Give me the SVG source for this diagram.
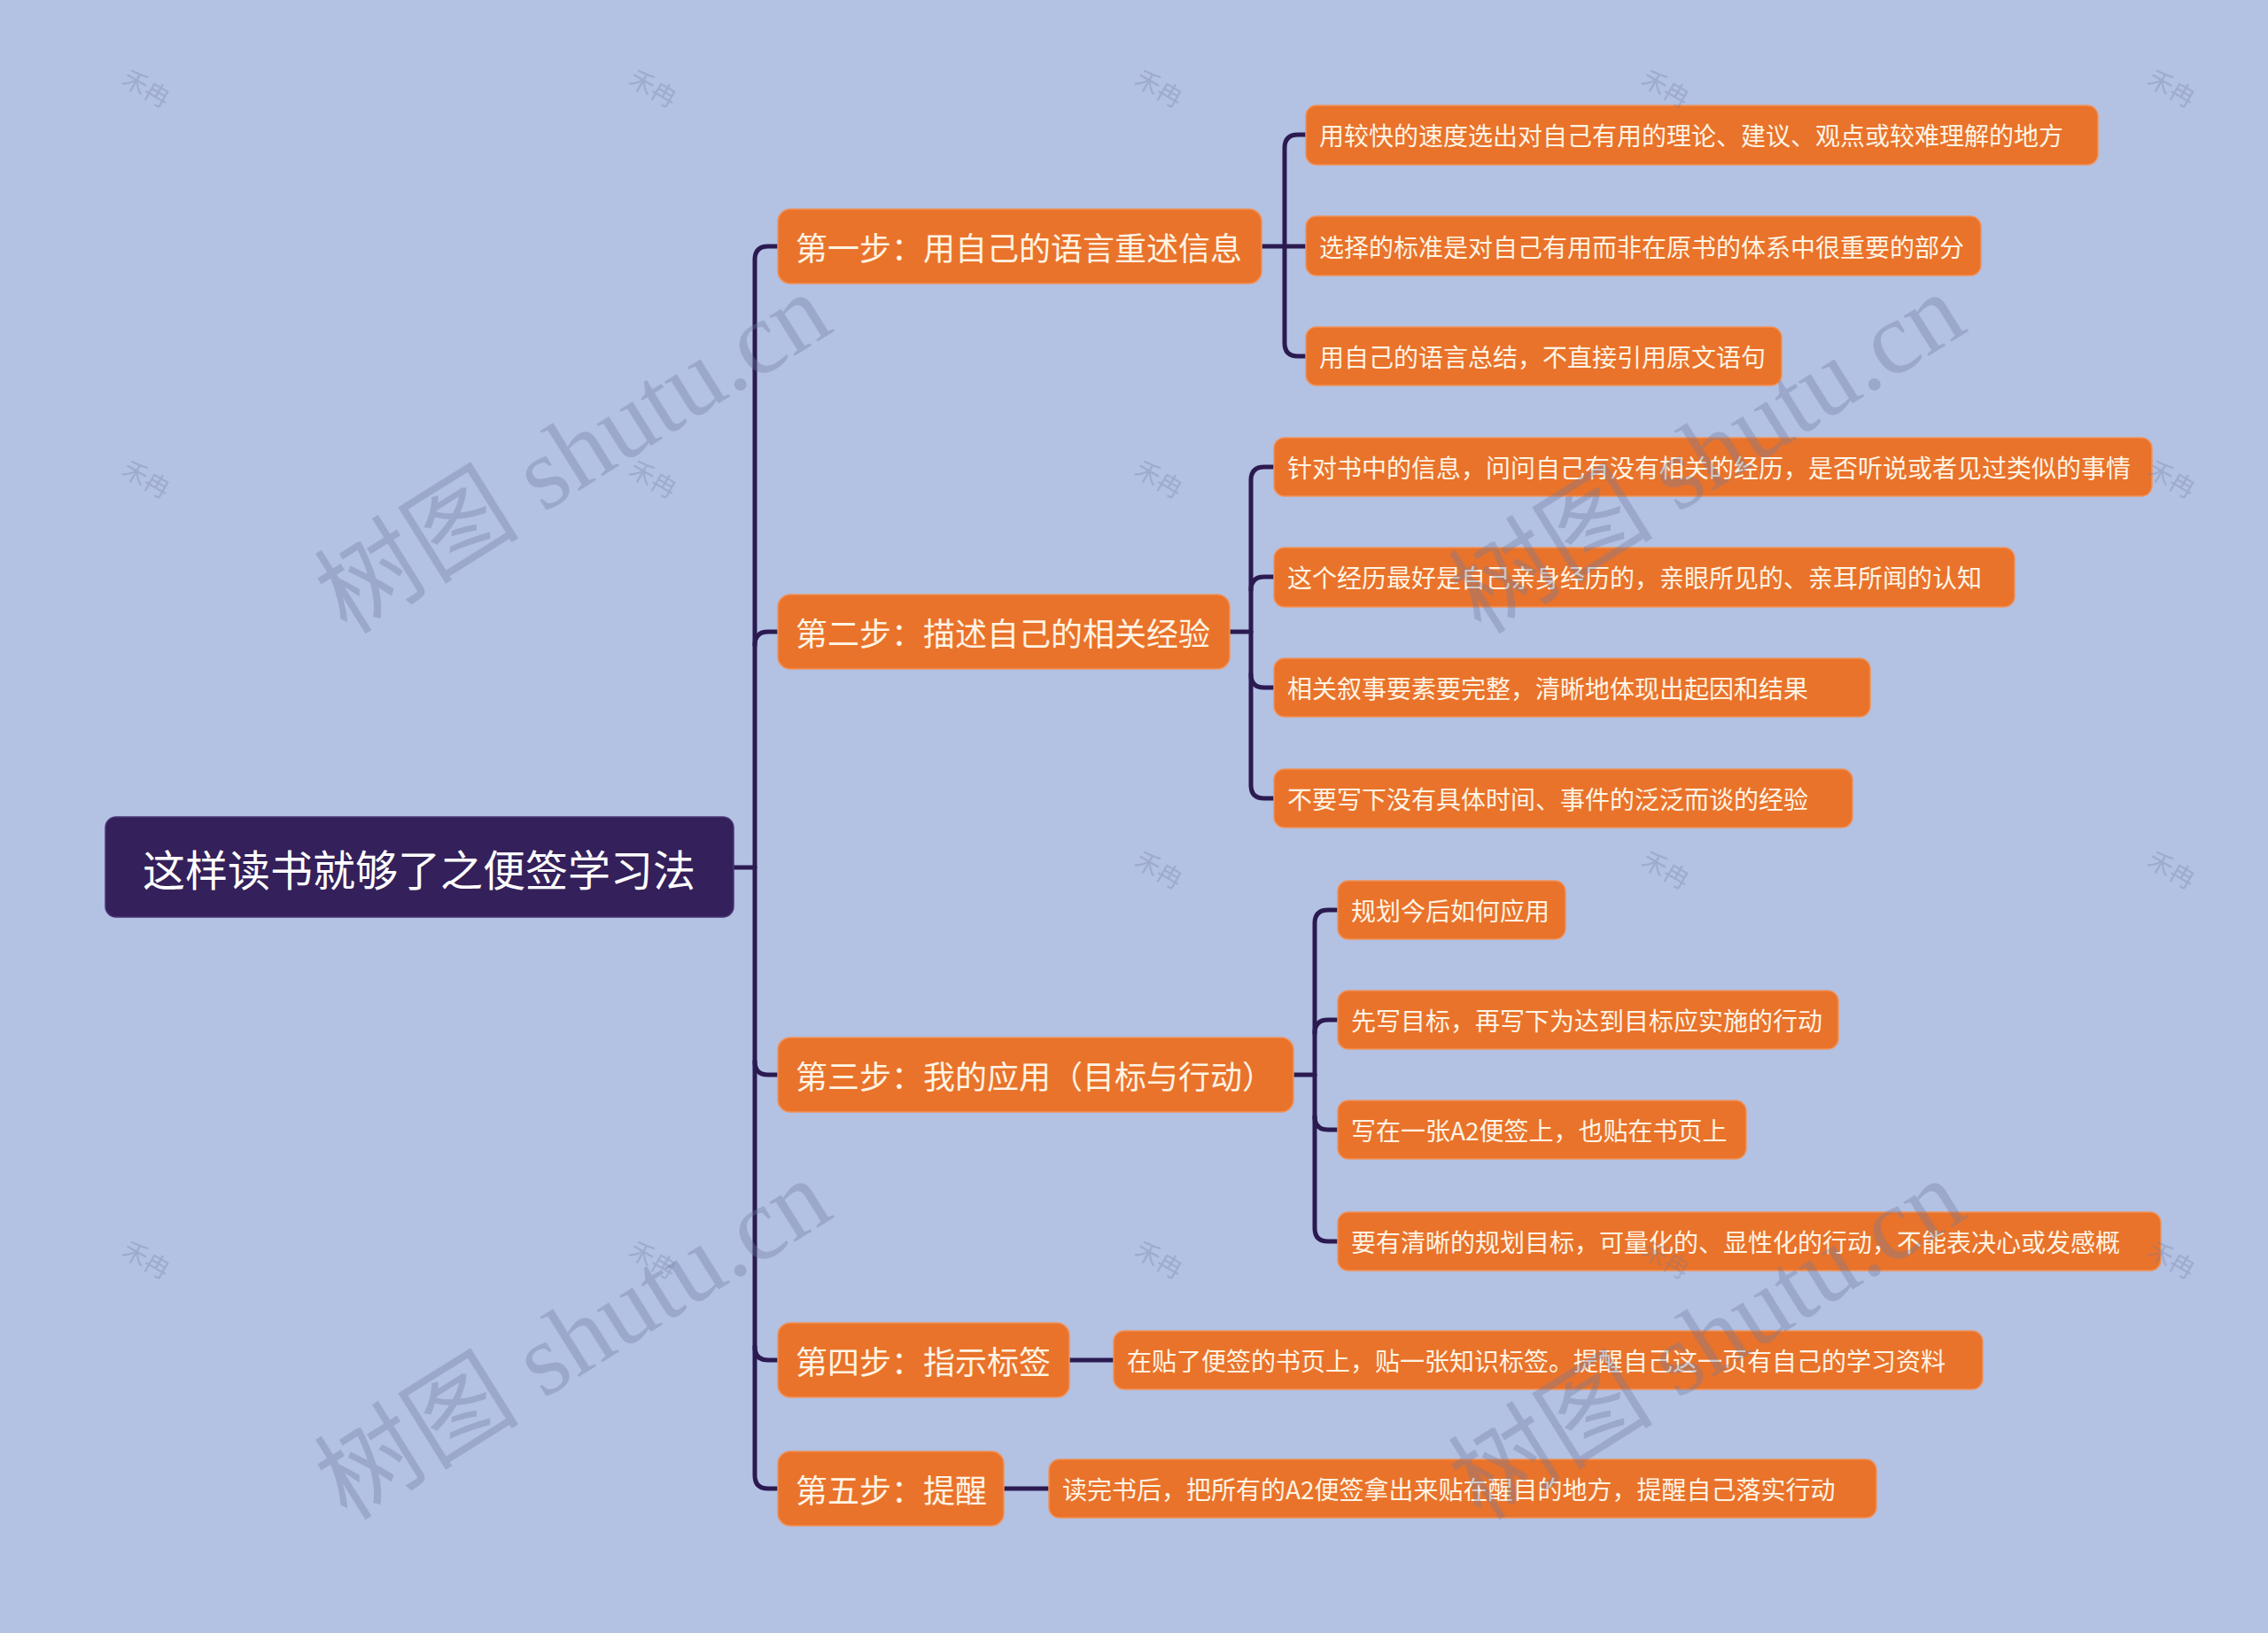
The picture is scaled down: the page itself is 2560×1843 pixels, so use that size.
<svg xmlns="http://www.w3.org/2000/svg" width="2560" height="1843" viewBox="0 0 2560 1843">
<style>
.bg{fill:#B3C1E3}
.root rect{fill:#34205A;stroke:#4a3675;stroke-width:1.5}
.root text{fill:#FFFFFF;font-family:"Noto Sans CJK SC","Noto Sans",sans-serif;font-size:48px;dominant-baseline:central;text-anchor:middle}
.l1 rect{fill:#E9732B;stroke:#F0925A;stroke-width:1.5}
.l1 text{fill:#FFF4E4;font-family:"Noto Sans CJK SC","Noto Sans",sans-serif;font-size:36px;dominant-baseline:central}
.l2 rect{fill:#E9732B;stroke:#F0925A;stroke-width:1.5}
.l2 text{fill:#FFF4E4;font-family:"Noto Sans CJK SC","Noto Sans",sans-serif;font-size:28px;dominant-baseline:central}
.links path{fill:none;stroke:#2B1A50;stroke-width:5;stroke-linecap:round;stroke-linejoin:round}
.wm{fill:#6F7BA0;opacity:0.35;font-family:"Liberation Serif","Noto Sans CJK SC",serif;font-size:116px;text-anchor:middle;dominant-baseline:central}
.wm2{fill:#6F7BA0;opacity:0.3;font-family:"Noto Sans CJK SC",sans-serif;font-size:28px;text-anchor:middle;dominant-baseline:central}
</style>
<rect class="bg" x="0" y="0" width="2560" height="1843"/>

<g id="connectors" class="links">
  <path d="M828 979 H852"/>
  <path d="M878 278 H867 Q852 278 852 293 V1665 Q852 1680 867 1680 H878"/>
  <path d="M852 728 Q852 713 867 713 H878"/>
  <path d="M852 1198 Q852 1213 867 1213 H878"/>
  <path d="M852 1520 Q852 1535 867 1535 H878"/>

  <path d="M1424 278 H1474"/>
  <path d="M1474 152 H1465 Q1450 152 1450 167 V387 Q1450 402 1465 402 H1474"/>

  <path d="M1388 713 H1412"/>
  <path d="M1438 527 H1427 Q1412 527 1412 542 V886 Q1412 901 1427 901 H1438"/>
  <path d="M1412 666 Q1412 651 1427 651 H1438"/>
  <path d="M1412 761 Q1412 776 1427 776 H1438"/>

  <path d="M1460 1213 H1484"/>
  <path d="M1510 1027 H1499 Q1484 1027 1484 1042 V1386 Q1484 1401 1499 1401 H1510"/>
  <path d="M1484 1166 Q1484 1151 1499 1151 H1510"/>
  <path d="M1484 1260 Q1484 1275 1499 1275 H1510"/>

  <path d="M1207 1535 H1257"/>
  <path d="M1133 1680 H1184"/>
</g>

<g id="root" class="root">
  <rect x="119" y="922" width="709" height="113" rx="12"/>
  <text x="473" y="979">这样读书就够了之便签学习法</text>
</g>

<g id="n1" class="l1">
  <rect x="878" y="236" width="546" height="84" rx="14"/>
  <text x="898" y="278">第一步：用自己的语言重述信息</text>
</g>
<g id="n2" class="l1">
  <rect x="878" y="671" width="510" height="84" rx="14"/>
  <text x="898" y="713">第二步：描述自己的相关经验</text>
</g>
<g id="n3" class="l1">
  <rect x="878" y="1171" width="582" height="84" rx="14"/>
  <text x="898" y="1213">第三步：我的应用（目标与行动）</text>
</g>
<g id="n4" class="l1">
  <rect x="878" y="1493" width="329" height="84" rx="14"/>
  <text x="898" y="1535">第四步：指示标签</text>
</g>
<g id="n5" class="l1">
  <rect x="878" y="1638" width="255" height="84" rx="14"/>
  <text x="898" y="1680">第五步：提醒</text>
</g>

<g id="n1a" class="l2">
  <rect x="1474" y="119" width="894" height="67" rx="12"/>
  <text x="1489" y="152">用较快的速度选出对自己有用的理论、建议、观点或较难理解的地方</text>
</g>
<g id="n1b" class="l2">
  <rect x="1474" y="244" width="762" height="67" rx="12"/>
  <text x="1489" y="278">选择的标准是对自己有用而非在原书的体系中很重要的部分</text>
</g>
<g id="n1c" class="l2">
  <rect x="1474" y="369" width="537" height="66" rx="12"/>
  <text x="1489" y="402">用自己的语言总结，不直接引用原文语句</text>
</g>

<g id="n2a" class="l2">
  <rect x="1438" y="494" width="991" height="66" rx="12"/>
  <text x="1453" y="527">针对书中的信息，问问自己有没有相关的经历，是否听说或者见过类似的事情</text>
</g>
<g id="n2b" class="l2">
  <rect x="1438" y="618" width="836" height="67" rx="12"/>
  <text x="1453" y="651">这个经历最好是自己亲身经历的，亲眼所见的、亲耳所闻的认知</text>
</g>
<g id="n2c" class="l2">
  <rect x="1438" y="743" width="673" height="66" rx="12"/>
  <text x="1453" y="776">相关叙事要素要完整，清晰地体现出起因和结果</text>
</g>
<g id="n2d" class="l2">
  <rect x="1438" y="868" width="653" height="66" rx="12"/>
  <text x="1453" y="901">不要写下没有具体时间、事件的泛泛而谈的经验</text>
</g>

<g id="n3a" class="l2">
  <rect x="1510" y="994" width="257" height="66" rx="12"/>
  <text x="1525" y="1027">规划今后如何应用</text>
</g>
<g id="n3b" class="l2">
  <rect x="1510" y="1118" width="565" height="66" rx="12"/>
  <text x="1525" y="1151">先写目标，再写下为达到目标应实施的行动</text>
</g>
<g id="n3c" class="l2">
  <rect x="1510" y="1242" width="461" height="66" rx="12"/>
  <text x="1525" y="1275">写在一张A2便签上，也贴在书页上</text>
</g>
<g id="n3d" class="l2">
  <rect x="1510" y="1368" width="929" height="66" rx="12"/>
  <text x="1525" y="1401">要有清晰的规划目标，可量化的、显性化的行动，不能表决心或发感概</text>
</g>

<g id="n4a" class="l2">
  <rect x="1257" y="1502" width="981" height="66" rx="12"/>
  <text x="1272" y="1535">在贴了便签的书页上，贴一张知识标签。提醒自己这一页有自己的学习资料</text>
</g>
<g id="n5a" class="l2">
  <rect x="1184" y="1647" width="934" height="66" rx="12"/>
  <text x="1199" y="1680">读完书后，把所有的A2便签拿出来贴在醒目的地方，提醒自己落实行动</text>
</g>

<g id="watermarks">
  <text class="wm" transform="translate(647 512) rotate(-32)">树图 shutu.cn</text>
  <text class="wm" transform="translate(1927 512) rotate(-32)">树图 shutu.cn</text>
  <text class="wm" transform="translate(647 1512) rotate(-32)">树图 shutu.cn</text>
  <text class="wm" transform="translate(1927 1512) rotate(-32)">树图 shutu.cn</text>
  <text class="wm2" transform="translate(166 98) rotate(30)">禾冉</text>
  <text class="wm2" transform="translate(738 98) rotate(30)">禾冉</text>
  <text class="wm2" transform="translate(1309 98) rotate(30)">禾冉</text>
  <text class="wm2" transform="translate(1881 98) rotate(30)">禾冉</text>
  <text class="wm2" transform="translate(2452 98) rotate(30)">禾冉</text>
  <text class="wm2" transform="translate(166 539) rotate(30)">禾冉</text>
  <text class="wm2" transform="translate(738 539) rotate(30)">禾冉</text>
  <text class="wm2" transform="translate(1309 539) rotate(30)">禾冉</text>
  <text class="wm2" transform="translate(2452 539) rotate(30)">禾冉</text>
  <text class="wm2" transform="translate(1309 980) rotate(30)">禾冉</text>
  <text class="wm2" transform="translate(1881 980) rotate(30)">禾冉</text>
  <text class="wm2" transform="translate(2452 980) rotate(30)">禾冉</text>
  <text class="wm2" transform="translate(166 1420) rotate(30)">禾冉</text>
  <text class="wm2" transform="translate(738 1420) rotate(30)">禾冉</text>
  <text class="wm2" transform="translate(1309 1420) rotate(30)">禾冉</text>
  <text class="wm2" transform="translate(1881 1420) rotate(30)">禾冉</text>
  <text class="wm2" transform="translate(2452 1420) rotate(30)">禾冉</text>
</g>
</svg>
